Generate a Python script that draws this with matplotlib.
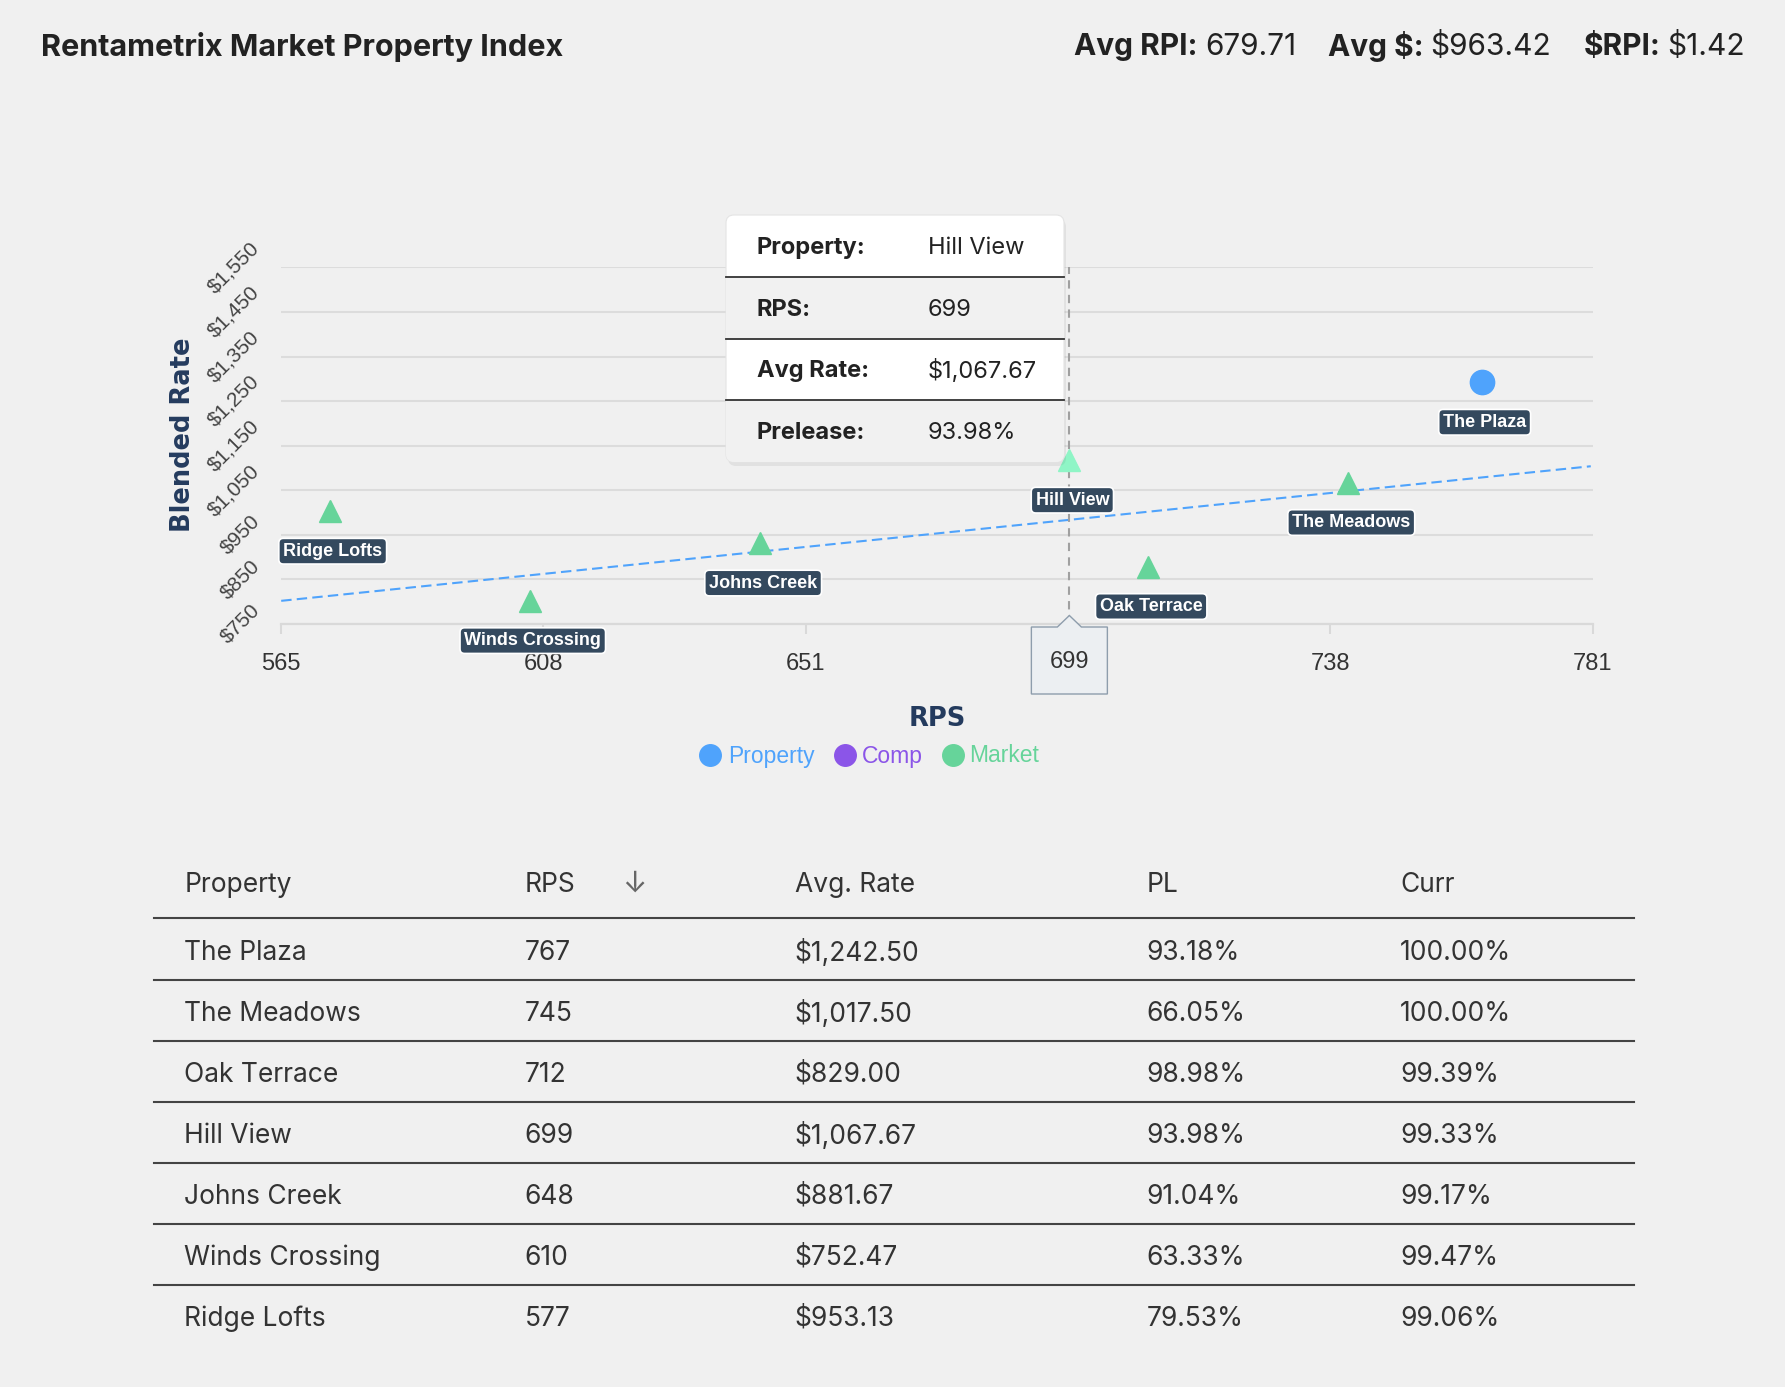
import numpy as np
import matplotlib.pyplot as plt
from matplotlib.lines import Line2D
from matplotlib.patches import FancyBboxPatch, Polygon, Rectangle

plt.rcParams['font.family'] = ['Liberation Sans', 'DejaVu Sans']
UI = ['Inter', 'DejaVu Sans']

# data (table order)
names = ['The Plaza', 'The Meadows', 'Oak Terrace', 'Hill View', 'Johns Creek', 'Winds Crossing', 'Ridge Lofts']
kinds = ['Property', 'Market', 'Market', 'Market', 'Market', 'Market', 'Market']
rps = [767, 745, 712, 699, 648, 610, 577]
rate = [1242.50, 1017.50, 829.00, 1067.67, 881.67, 752.47, 953.13]
pl = [93.18, 66.05, 98.98, 93.98, 91.04, 63.33, 79.53]
curr = [100.00, 100.00, 99.39, 99.33, 99.17, 99.47, 99.06]
hover = 3  # Hill View is the hovered point

legend_names = ['Property', 'Comp', 'Market']
legend_colors = ['#4fa3fc', '#8b55e8', '#66d49a']

x_tick_labels = ['565', '608', '651', '', '738', '781']
y_tick_labels = ['$750', '$850', '$950', '$1,050', '$1,150', '$1,250', '$1,350', '$1,450', '$1,550']

# trend line as drawn in the chart
trend_x = [569, 785]
trend_y = [752, 1054]

headers = ['Property', 'RPS', 'Avg. Rate', 'PL', 'Curr']

W, H = 1785, 1387
BG = '#f0f0f0'
NAVY = '#243b5e'
LABEL_BG = '#34495e'

fig = plt.figure(figsize=(W / 100, H / 100), dpi=100, facecolor=BG)

# ---- scatter chart ----
ax = fig.add_axes([281.2 / W, 1 - 624 / H, (1592.6 - 281.2) / W, (624 - 267.5) / H])
ax.set_facecolor(BG)
ax.set_xlim(569, 785.3)
ax.set_ylim(700, 1500)
ax.set_xticks(np.linspace(569, 785.3, 6))
ax.set_xticklabels(x_tick_labels)
ax.set_yticks(np.arange(700, 1501, 100))
ax.set_yticklabels(y_tick_labels)
for s in ['top', 'right', 'left']:
    ax.spines[s].set_visible(False)
ax.spines['bottom'].set_color('#d9d9d9')
ax.spines['bottom'].set_linewidth(1.6)
ax.grid(axis='y', color='#dcdcdc', lw=1.5)
ax.set_axisbelow(True)
ax.tick_params(axis='y', length=0, pad=13, labelsize=15, labelcolor='#444')
ax.tick_params(axis='x', length=7, width=1.5, color='#d9d9d9', pad=14, labelsize=17, labelcolor='#333')
plt.setp(ax.get_yticklabels(), rotation=45, ha='right', va='center')

ax.plot(trend_x, trend_y, color='#4fa3fc', lw=1.5, dashes=(5, 2.5), zorder=2)
ax.vlines(rps[hover], 700, 1500, color='#a0a0a0', lw=1.5, linestyles=(0, (4, 3)), zorder=2)

for i, (n, k, x, y) in enumerate(zip(names, kinds, rps, rate)):
    c = legend_colors[legend_names.index(k)]
    if k == 'Property':
        ax.plot(x, y, marker='o', ms=17.5, color=c, mec=c, zorder=3, clip_on=False)
    else:
        if i == hover:
            c = '#8ff5c6'
        ax.plot(x, y, marker='^', ms=16, color=c, mec=c, zorder=3, clip_on=False)
    ax.annotate(n, (x, y), xytext=(3, -40), textcoords='offset pixels',
                ha='center', va='center', color='white', fontweight='bold', fontsize=13,
                bbox=dict(boxstyle='round,pad=0.24,rounding_size=0.25', fc=LABEL_BG, ec='white', lw=1.2),
                annotation_clip=False, zorder=4)

# ---- overlay in pixel coords ----
ov = fig.add_axes([0, 0, 1, 1], zorder=5)
ov.set_xlim(0, W)
ov.set_ylim(H, 0)
ov.axis('off')
ov.patch.set_alpha(0)

ov.text(41, 47, 'Rentametrix Market Property Index', fontsize=22, fontweight='bold',
        color='#222', family=UI, ha='left', va='center')

# header stats, laid out right-to-left from the right edge
avg_rps = np.mean(rps)
avg_rate = np.mean(rate)
stats = [('Avg RPI:', f'{avg_rps:.2f}'),
         ('Avg $:', f'${avg_rate:,.2f}'),
         ('$RPI:', f'${avg_rate / avg_rps:.2f}')]
renderer = fig.canvas.get_renderer()
xr = 1745
for lab, val in reversed(stats):
    tv = ov.text(xr, 47, val, fontsize=21.5, color='#222', family=UI, ha='right', va='center')
    wv = tv.get_window_extent(renderer).width
    tl = ov.text(xr - wv - 7, 47, lab, fontsize=21.5, fontweight='bold', color='#222', family=UI,
                 ha='right', va='center')
    wl = tl.get_window_extent(renderer).width
    xr = xr - wv - 7 - wl - 32

# axis titles
ov.text(183, 435, 'Blended Rate', rotation=90, fontsize=18.5, fontweight='bold', color=NAVY,
        family='DejaVu Sans', ha='center', va='center')
ov.text(937, 719.5, 'RPS', fontsize=18.5, fontweight='bold', color=NAVY,
        family='DejaVu Sans', ha='center', va='center')

# legend
for lab, c, xc, xt in zip(legend_names, legend_colors, [710, 845, 953], [728, 862, 969]):
    ov.add_line(Line2D([xc], [755], marker='o', ms=15.5, color=c, mec=c))
    ov.text(xt, 756, lab, fontsize=16.5, color=c, ha='left', va='center')

# crosshair label
cx = ax.transData.transform((rps[hover], 700))[0]
notch = [(cx - 38, 627), (cx - 12, 627), (cx, 615.5), (cx + 12, 627), (cx + 38, 627),
         (cx + 38, 694), (cx - 38, 694)]
ov.add_patch(Polygon(notch, closed=True, fc='#eceff2', ec='#8e9dac', lw=1.0))
ov.text(cx, 662, str(rps[hover]), fontsize=17, color='#333', ha='center', va='center')

# tooltip
tx, ty, tw, th = 726, 215, 338, 247
rh = th / 4
ov.add_patch(FancyBboxPatch((tx + 2, ty + 4), tw, th, boxstyle='round,pad=0,rounding_size=8',
                            fc='black', ec='none', alpha=0.06))
box = FancyBboxPatch((tx, ty), tw, th, boxstyle='round,pad=0,rounding_size=8',
                     fc='white', ec='#e4e4e4', lw=0.8)
ov.add_patch(box)
tip_rows = [('Property:', names[hover]), ('RPS:', str(rps[hover])),
            ('Avg Rate:', f'${rate[hover]:,.2f}'), ('Prelease:', f'{pl[hover]:.2f}%')]
for r, (lab, val) in enumerate(tip_rows):
    y0 = ty + r * rh
    if r % 2 == 1:
        rect = Rectangle((tx, y0), tw, rh, fc='#f1f1f1', ec='none')
        ov.add_patch(rect)
        rect.set_clip_path(box)
    if r > 0:
        ov.plot([tx, tx + tw], [y0, y0], color='#333', lw=1.3)
    ov.text(756.7, y0 + rh / 2 + 2, lab, fontsize=17, fontweight='bold', color='#222', family=UI, va='center')
    ov.text(927.7, y0 + rh / 2 + 2, val, fontsize=17, color='#222', family=UI, va='center')

# ---- table ----
col_x = [184.4, 524.8, 794.6, 1146.4, 1400.2]
for h, x in zip(headers, col_x):
    ov.text(x, 885.5, h, fontsize=19, color='#333', family=UI, va='center')
ov.text(634, 884, '\u2193', fontsize=21, color='#666', family=UI, ha='center', va='center')
ov.plot([153.7, 1633.6], [917.6, 917.6], color='#444', lw=1.5)
row_h = 61.0
for i in range(len(names)):
    y = 949.4 + i * row_h
    cells = [names[i], str(rps[i]), f'${rate[i]:,.2f}', f'{pl[i]:.2f}%', f'{curr[i]:.2f}%']
    for c, x in zip(cells, col_x):
        ov.text(x, y + 3.5, c, fontsize=19, color='#333', family=UI, va='center')
    if i < len(names) - 1:
        ov.plot([153.7, 1633.6], [y + 30.5, y + 30.5], color='#444', lw=1.5)

fig.savefig('out.png', dpi=100, facecolor=BG)
